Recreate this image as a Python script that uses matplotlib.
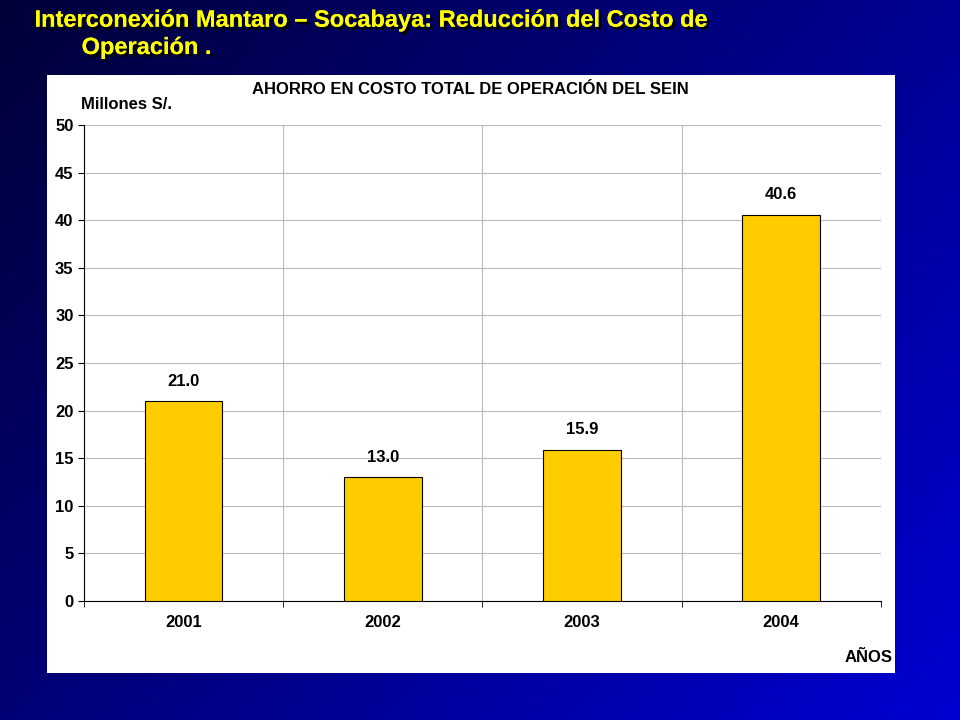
import numpy as np
import matplotlib.pyplot as plt
import matplotlib.patheffects as pe

years = ['2001', '2002', '2003', '2004']
savings = [21.0, 13.0, 15.9, 40.6]
yticks = [0, 5, 10, 15, 20, 25, 30, 35, 40, 45, 50]

plt.rcParams['font.family'] = 'Liberation Sans'

fig = plt.figure(figsize=(9.6, 7.2), dpi=100)

# slide background gradient
bg = fig.add_axes([0, 0, 1, 1])
gx, gy = np.meshgrid(np.linspace(0, 1, 200), np.linspace(0, 1, 200))
t = (gx * 0.6 + gy * 0.4)
c0 = np.array([0.0, 0.0, 0.22])
c1 = np.array([0.0, 0.0, 0.82])
img = c0[None, None, :] * (1 - t[..., None]) + c1[None, None, :] * t[..., None]
bg.imshow(img, extent=[0, 1, 0, 1], aspect='auto', origin='upper')
bg.axis('off')

shadow = [pe.withSimplePatchShadow(offset=(2, -2), shadow_rgbFace='black', alpha=1.0), pe.Normal()]
fig.text(0.036, 0.972, 'Interconexión Mantaro – Socabaya: Reducción del Costo de',
         color='#FFFF00', fontsize=17, fontweight='bold', va='center', path_effects=shadow)
fig.text(0.085, 0.934, 'Operación .', color='#FFFF00', fontsize=17,
         fontweight='bold', va='center', path_effects=shadow)

# white chart panel
panel = fig.add_axes([0.049, 0.0653, 0.883, 0.8306])
panel.set_facecolor('white')
panel.set_xticks([])
panel.set_yticks([])
for s in panel.spines.values():
    s.set_visible(False)

ax = fig.add_axes([0.0875, 0.1653, 0.830, 0.661])
x = np.arange(len(years))
bars = ax.bar(x, savings, width=0.39, color='#FFCC00', edgecolor='black', linewidth=0.8, zorder=3)
for xi, v in zip(x, savings):
    ax.text(xi, v + 1.3, f'{v:.1f}', ha='center', va='bottom', fontsize=12, fontweight='bold')

ax.set_xlim(-0.5, 3.5)
ax.set_ylim(0, 50)
ax.set_yticks(yticks)
ax.set_xticks(x)
ax.set_xticklabels(years, fontsize=12, fontweight='bold')
ax.set_xticks(np.arange(-0.5, 4, 1), minor=True)
ax.tick_params(axis='x', which='major', length=0, pad=10)
ax.tick_params(axis='x', which='minor', length=4, direction='out')
ax.tick_params(axis='y', labelsize=12, length=4)
for lbl in ax.get_yticklabels():
    lbl.set_fontweight('bold')
ax.grid(axis='y', color='#BBBBBB', linewidth=0.8, zorder=0)
ax.grid(axis='x', which='minor', color='#BBBBBB', linewidth=0.8, zorder=0)
for s in ['top', 'right']:
    ax.spines[s].set_visible(False)

fig.text(0.49, 0.875, 'AHORRO EN COSTO TOTAL DE OPERACIÓN DEL SEIN',
         ha='center', va='center', fontsize=12, fontweight='bold')
fig.text(0.084, 0.855, 'Millones S/.', ha='left', va='center', fontsize=12, fontweight='bold')
fig.text(0.930, 0.087, 'AÑOS', ha='right', va='center', fontsize=12, fontweight='bold')

fig.savefig('out.png', dpi=100)
